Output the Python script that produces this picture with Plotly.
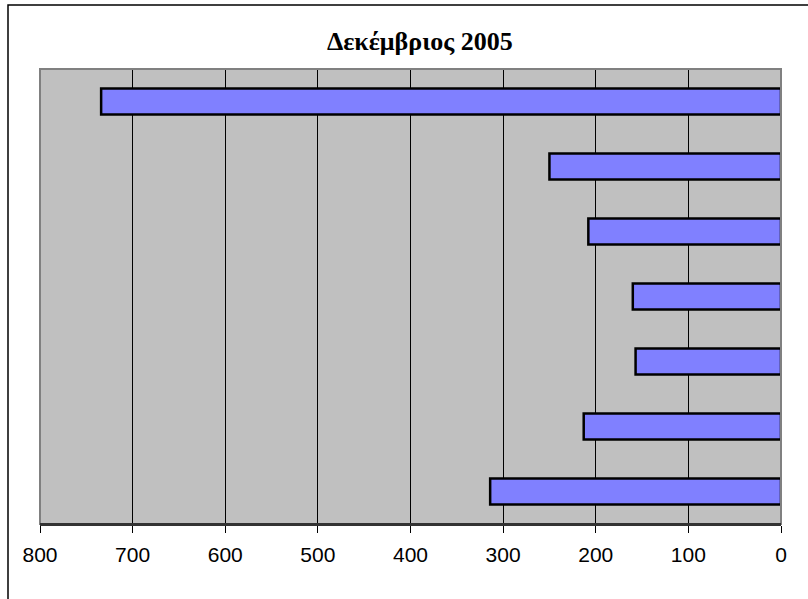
import plotly.graph_objects as go

categories = ["1", "2", "3", "4", "5", "6", "7"]
values = [734, 250, 208, 160, 157, 213, 314]
tick_vals = [0, 100, 200, 300, 400, 500, 600, 700, 800]
tick_text = ["0", "100", "200", "300", "400", "500", "600", "700", "800"]
title_text = "Δεκέμβριος 2005"

L, R, T, B = 40, 27, 69, 75
W, H = 808, 599
pw = W - L - R
ph = H - T - B

fig = go.Figure()
fig.add_trace(go.Bar(
    y=categories, x=values, orientation="h",
    marker=dict(color="#8080FF", line=dict(color="black", width=2.5)),
    hoverinfo="x",
))

def px_x(p):
    return (p - L) / pw

def px_y(p):
    return (H - B - p) / ph

fig.update_layout(
    width=W, height=H,
    margin=dict(l=L, r=R, t=T, b=B, pad=0),
    paper_bgcolor="white",
    plot_bgcolor="#C0C0C0",
    showlegend=False,
    bargap=0.6,
    title=dict(text="<b>" + title_text + "</b>", x=px_x(425), xanchor="center",
               y=1 - 41 / H, yanchor="middle",
               font=dict(family="Liberation Serif", size=26, color="black")),
    xaxis=dict(range=[800, 0], tickvals=tick_vals, ticktext=tick_text,
               showgrid=True, gridcolor="black", gridwidth=1,
               zeroline=False, showline=True, linecolor="#333333", linewidth=2,
               ticks="outside", ticklen=7, tickcolor="black", tickwidth=1,
               ticklabelstandoff=4,
               tickfont=dict(family="Liberation Sans", size=21, color="black")),
    yaxis=dict(autorange="reversed", showticklabels=False, showgrid=False,
               zeroline=False, showline=False, ticks=""),
    shapes=[
        dict(type="rect", xref="paper", yref="paper", x0=0, x1=1, y0=0, y1=1,
             line=dict(color="#808080", width=2), fillcolor="rgba(0,0,0,0)", layer="above"),
        dict(type="line", xref="paper", yref="paper", x0=0, x1=1, y0=0, y1=0,
             line=dict(color="#333333", width=2), layer="above"),
        dict(type="rect", xref="paper", yref="paper",
             x0=px_x(8), x1=px_x(812), y0=px_y(5), y1=px_y(605),
             line=dict(color="black", width=1.5), fillcolor="rgba(0,0,0,0)", layer="below"),
    ],
)

fig.write_html("out.html", config={"displayModeBar": False},
               post_script="document.body.style.margin='0';document.body.style.overflow='hidden';")
